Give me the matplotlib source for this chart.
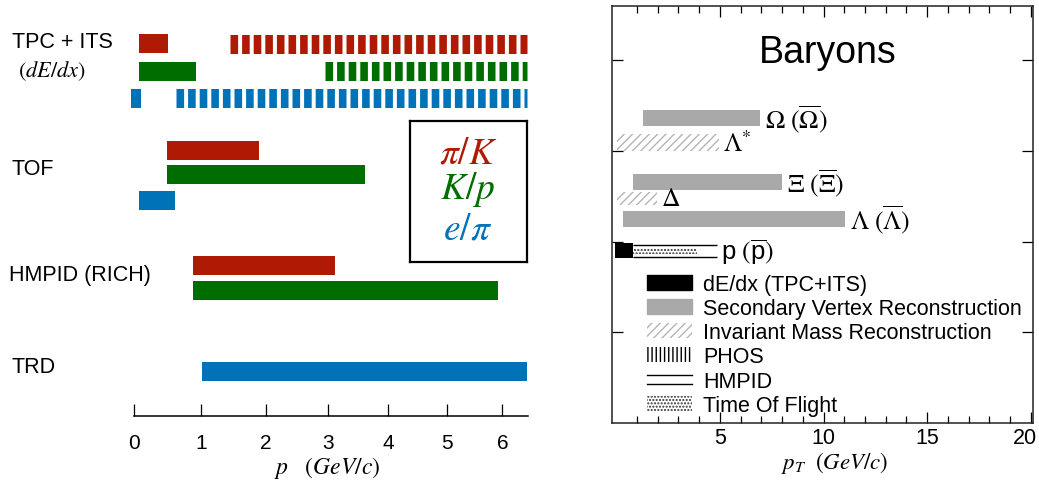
import numpy as np
import matplotlib.pyplot as plt
from matplotlib.patches import Patch
from matplotlib.lines import Line2D
from matplotlib.legend_handler import HandlerBase
from matplotlib.transforms import ScaledTranslation

plt.rcParams['font.family'] = 'Liberation Sans'
plt.rcParams['mathtext.fontset'] = 'custom'
plt.rcParams['mathtext.rm'] = 'STIXGeneral'
plt.rcParams['mathtext.it'] = 'STIXGeneral:italic'
plt.rcParams['mathtext.sf'] = 'Liberation Sans'
plt.rcParams['lines.scale_dashes'] = False
plt.rcParams['hatch.linewidth'] = 1.0

W, H = 1039, 485

# ---- left: PID reach per detector, p in GeV/c
pairs = ['pi/K', 'K/p', 'e/pi']
pair_colors = {'pi/K': '#AE1A04', 'K/p': '#006D00', 'e/pi': '#0072B7'}
pair_text = {'pi/K': r'$\pi/K$', 'K/p': r'$K/p$', 'e/pi': r'$e/\pi$'}

detectors = ['TPC + ITS', 'TOF', 'HMPID (RICH)', 'TRD']

# continuous coverage
solid_det = ['TPC + ITS', 'TPC + ITS', 'TPC + ITS', 'TOF', 'TOF', 'TOF',
             'HMPID (RICH)', 'HMPID (RICH)', 'TRD']
solid_pair = ['pi/K', 'K/p', 'e/pi', 'pi/K', 'K/p', 'e/pi', 'pi/K', 'K/p', 'e/pi']
solid_lo = [0.07, 0.07, -0.04, 0.49, 0.49, 0.07, 0.88, 0.88, 1.02]
solid_hi = [0.50, 0.93, 0.10, 1.90, 3.60, 0.61, 3.11, 5.92, 6.45]

# dE/dx relativistic rise (statistical separation)
rise_pair = ['pi/K', 'K/p', 'e/pi']
rise_lo = [1.44, 2.95, 0.62]
rise_hi = [6.46, 6.46, 6.46]

# ---- right: baryon pT reach, GeV/c
svr_name = [r'$\Omega\ (\overline{\Omega})$', r'$\Xi\ (\overline{\Xi})$',
            r'$\Lambda\ (\overline{\Lambda})$']
svr_lo = [1.3, 0.8, 0.33]
svr_hi = [6.95, 8.0, 11.05]

inv_name = [r'$\Lambda^{*}$', r'$\Delta$']
inv_lo = [0.04, 0.04]
inv_hi = [4.95, 1.97]

p_name = r'$\mathsf{p}\ (\overline{\mathsf{p}})$'
p_dedx = (-0.05, 0.8)
p_hmpid = (0.8, 4.85)
p_tof = (0.8, 3.9)

# row layout (left in pixels from top, right in axis units)
left_rows = {('TPC + ITS', 'pi/K'): 44.5, ('TPC + ITS', 'K/p'): 72, ('TPC + ITS', 'e/pi'): 99,
             ('TOF', 'pi/K'): 151, ('TOF', 'K/p'): 175, ('TOF', 'e/pi'): 201.5,
             ('HMPID (RICH)', 'pi/K'): 266, ('HMPID (RICH)', 'K/p'): 291.5,
             ('TRD', 'e/pi'): 372.5}
svr_y = [3.365, 2.66, 2.25]
inv_y = [3.09, 2.48]
p_y = 1.90


def px(x, y):
    return x / W, 1 - y / H


fig = plt.figure(figsize=(W / 100, H / 100), dpi=100)

# slightly compressed momentum axis
a = 0.01618


def fwd(x):
    return x - a * np.asarray(x) ** 2


def inv(u):
    return (1 - np.sqrt(np.clip(1 - 4 * a * np.asarray(u), 0, None))) / (2 * a)


ax1 = fig.add_axes([127.2 / W, (H - 417) / H, (528 - 127.2) / W, 417 / H])
ax1.set_xscale('function', functions=(fwd, inv))
ax1.set_xlim(-0.1, 6.47)
ax1.set_ylim(417, 0)
bar_h = 19

for d, pr, lo, hi in zip(solid_det, solid_pair, solid_lo, solid_hi):
    ax1.barh(left_rows[(d, pr)], hi - lo, left=lo, height=bar_h,
             color=pair_colors[pr], linewidth=0)

for pr, lo, hi in zip(rise_pair, rise_lo, rise_hi):
    y = left_rows[('TPC + ITS', pr)]
    ax1.plot([lo, hi], [y, y], color=pair_colors[pr], lw=bar_h * 0.72,
             dashes=(7.6 * 0.72, 4.0 * 0.72), dash_capstyle='butt',
             solid_capstyle='butt')

for s in ['top', 'left', 'right']:
    ax1.spines[s].set_visible(False)
ax1.spines['bottom'].set_bounds(0, 6.47)
ax1.spines['bottom'].set_linewidth(1.1)
ax1.set_yticks([])
ax1.set_xticks(range(7))
ax1.tick_params(axis='x', direction='in', length=8.5, width=0.9, pad=12,
                labelsize=15)
ax1.set_xlabel(r'$p\ \ \ (GeV/c)$', fontsize=17, labelpad=2)

fig.text(*px(12, 42), 'TPC + ITS', fontsize=15.5, va='center')
fig.text(*px(18, 71), r'$(dE/dx)$', fontsize=16, va='center')
fig.text(*px(12, 170), 'TOF', fontsize=15.5, va='center')
fig.text(*px(9, 275), 'HMPID (RICH)', fontsize=15.5, va='center')
fig.text(*px(11, 368), 'TRD', fontsize=15.5, va='center')

# colour key box
key = fig.add_axes([410 / W, (H - 263) / H, 117 / W, 141 / H])
key.set_xticks([])
key.set_yticks([])
for s in key.spines.values():
    s.set_linewidth(1.6)
for pr, ky in zip(pairs, [153, 190, 230]):
    fig.text(*px(468, ky), pair_text[pr], color=pair_colors[pr], fontsize=27,
             ha='center', va='center')

# ---- right panel
ax2 = fig.add_axes([612 / W, (H - 424) / H, (1033 - 612) / W, (424 - 7) / H])
ax2.set_xlim(-0.2, 20.1)
ax2.set_ylim(0, 4.6)
gray = '#A9A9A9'
hatch_gray = '#B4B4B4'

ax2.barh(svr_y, np.subtract(svr_hi, svr_lo), left=svr_lo, height=0.17,
         color=gray, linewidth=0)
ax2.barh(inv_y, np.subtract(inv_hi, inv_lo), left=inv_lo, height=[0.19, 0.14],
         facecolor='white', edgecolor=hatch_gray, hatch='////', linewidth=0)
ax2.barh(p_y, p_dedx[1] - p_dedx[0], left=p_dedx[0], height=0.17,
         color='black', linewidth=0)
ax2.barh(p_y, p_tof[1] - p_tof[0], left=p_tof[0], height=0.07,
         facecolor='white', edgecolor='#333333', hatch='.....', linewidth=0)
ax2.hlines([p_y - 0.065, p_y + 0.065], p_hmpid[0], p_hmpid[1], color='black',
           lw=1.0)

for name, y, hi in zip(svr_name, svr_y, svr_hi):
    ax2.text(hi + 0.25, y, name, fontsize=18.5, va='center')
for name, y, hi in zip(inv_name, inv_y, inv_hi):
    ax2.text(hi + 0.2, y, name, fontsize=18.5, va='center')
ax2.text(p_hmpid[1] + 0.2, p_y, p_name, fontsize=18.5, va='center')

ax2.text(0.513, 0.89, 'Baryons', transform=ax2.transAxes, fontsize=27,
         ha='center', va='center')

ax2.set_xticks([5, 10, 15, 20])
ax2.set_xticks(range(1, 20), minor=True)
ax2.set_yticks([1, 2, 3, 4])
ax2.set_yticklabels([])
ax2.tick_params(which='both', direction='in', top=True, right=True,
                width=0.9, labelsize=15.5, pad=3)
ax2.tick_params(which='major', length=8)
ax2.tick_params(which='minor', length=5)
for s in ax2.spines.values():
    s.set_linewidth(1.1)
    s.set_color('#222222')
ax2.set_xlabel(r'$p_T\ \ (GeV/c)$', fontsize=16.5, labelpad=0)
ax2.xaxis.set_label_coords((835 - 612) / 421, -0.063)

# keep the "20" inside the figure edge
last = ax2.xaxis.get_major_ticks()[-1].label1
last.set_transform(last.get_transform() +
                   ScaledTranslation(-6 / 100, 0, fig.dpi_scale_trans))


class DoubleLine(HandlerBase):
    def create_artists(self, legend, orig_handle, xdescent, ydescent, width,
                       height, fontsize, trans):
        x0 = -xdescent
        return [Line2D([x0, x0 + width], [-ydescent + f * height] * 2,
                       color='black', lw=1.0, transform=trans)
                for f in (0.2, 0.75)]


hmpid_key = Line2D([], [])
handles = [Patch(facecolor='black', edgecolor='black'),
           Patch(facecolor=gray, edgecolor=gray),
           Patch(facecolor='white', edgecolor=hatch_gray, hatch='////', lw=0),
           Patch(facecolor='white', edgecolor='black', hatch='||||', lw=0),
           hmpid_key,
           Patch(facecolor='white', edgecolor='#333333', hatch='.....', lw=0)]
labels = ['dE/dx (TPC+ITS)', 'Secondary Vertex Reconstruction',
          'Invariant Mass Reconstruction', 'PHOS', 'HMPID', 'Time Of Flight']
ax2.legend(handles, labels, handler_map={hmpid_key: DoubleLine()},
           loc='upper left', bbox_to_anchor=(0.083, 0.358), frameon=False,
           fontsize=15.5, borderpad=0, borderaxespad=0, handlelength=2.1,
           handleheight=0.7, handletextpad=0.5, labelspacing=0.15)

fig.savefig('out.png', dpi=100)
